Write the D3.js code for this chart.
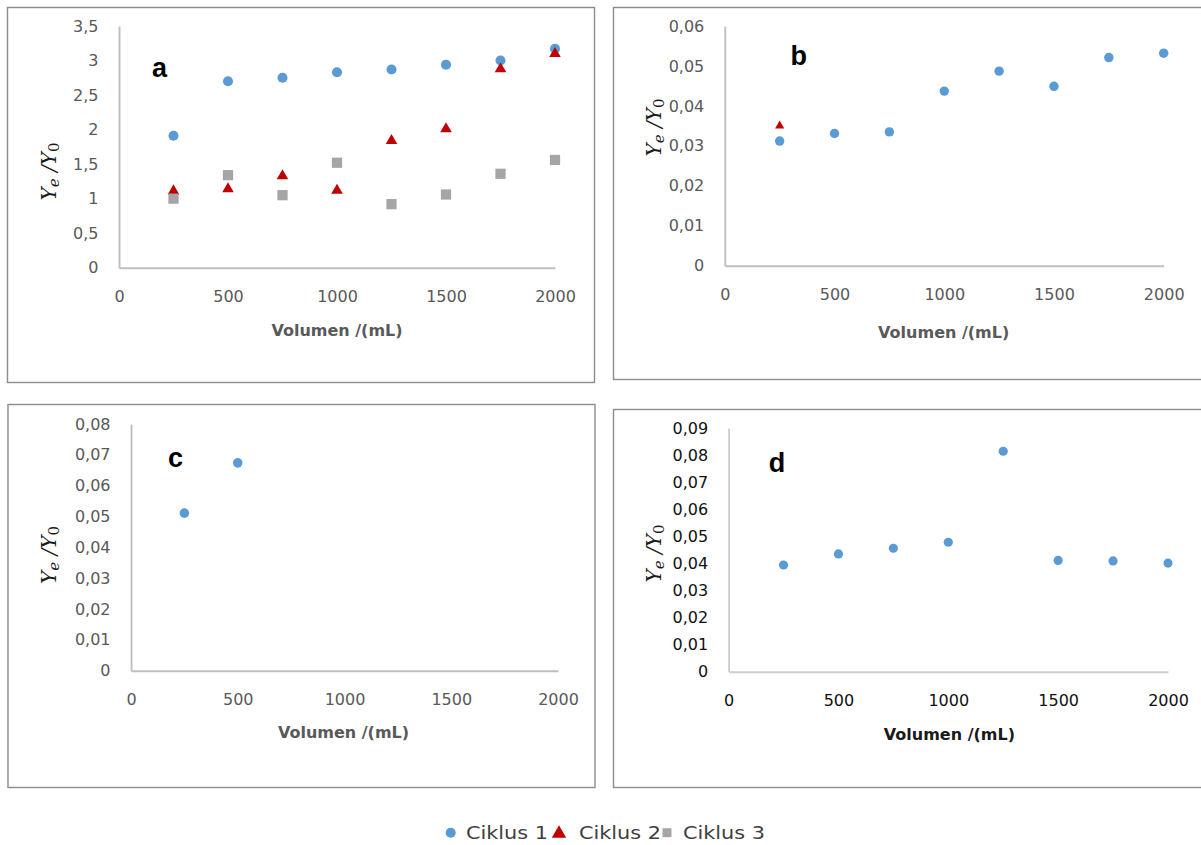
<!DOCTYPE html>
<html>
<head>
<meta charset="utf-8">
<script src="https://cdn.jsdelivr.net/npm/d3@7"></script>
<style>
  html, body { margin: 0; padding: 0; background: #fff; }
  svg { display: block; }
</style>
</head>
<body>
<svg id="chart" width="1201" height="845"></svg>
<script>
// ---- data ----
const volumes = [250, 500, 750, 1000, 1250, 1500, 1750, 2000];
const xTicks = [0, 500, 1000, 1500, 2000];
const seriesNames = ["Ciklus 1", "Ciklus 2", "Ciklus 3"];

// panel a
const aCiklus1 = [1.91, 2.70, 2.75, 2.83, 2.87, 2.94, 3.00, 3.17];
const aCiklus2 = [1.11, 1.14, 1.33, 1.12, 1.84, 2.01, 2.88, 3.10];
const aCiklus3 = [1.00, 1.34, 1.05, 1.52, 0.92, 1.06, 1.36, 1.56];
const aTicks = [0, 0.5, 1, 1.5, 2, 2.5, 3, 3.5];

// panel b
const bCiklus1 = [0.0312, 0.0331, 0.0335, 0.0437, 0.0487, 0.0449, 0.0521, 0.0532];
const bCiklus2Vol = [250];
const bCiklus2 = [0.0350];
const bTicks = [0, 0.01, 0.02, 0.03, 0.04, 0.05, 0.06];

// panel c
const cVolumes = [250, 500];
const cCiklus1 = [0.0511, 0.0674];
const cTicks = [0, 0.01, 0.02, 0.03, 0.04, 0.05, 0.06, 0.07, 0.08];

// panel d
const dCiklus1 = [0.0394, 0.0435, 0.0456, 0.0478, 0.0814, 0.0411, 0.0409, 0.0401];
const dTicks = [0, 0.01, 0.02, 0.03, 0.04, 0.05, 0.06, 0.07, 0.08, 0.09];

const colors = ["#5b9bd5", "#c00000", "#a5a5a5"];
const symbols = [d3.symbolCircle, d3.symbolTriangle, d3.symbolSquare];

const fmt = v => String(v).replace(".", ",");
const pairs = (xs, ys) => xs.map((x, i) => ({ x, y: ys[i] }));

// ---- panel layout ----
const panels = [
  {
    letter: "a", box: [7.5, 7.5, 594.5, 382.5],
    xr: [119, 555], yr: [267.7, 26], yMax: 3.5, ticks: aTicks,
    title: [337, 336], ylab: [48.5, 171.5], letterPos: [152, 77],
    text: "#595959", axis: "#bfbfbf",
    series: [
      { s: 0, pts: pairs(volumes, aCiklus1), size: 80 },
      { s: 1, pts: pairs(volumes, aCiklus2), size: 58 },
      { s: 2, pts: pairs(volumes, aCiklus3), size: 105 }
    ]
  },
  {
    letter: "b", box: [613.5, 7.5, 1215, 379.5],
    xr: [724.8, 1163.7], yr: [265.7, 26], yMax: 0.06, ticks: bTicks,
    title: [943.7, 338], ylab: [653.5, 127.5], letterPos: [790.6, 65],
    text: "#595959", axis: "#bfbfbf",
    series: [
      { s: 0, pts: pairs(volumes, bCiklus1), size: 70 },
      { s: 1, pts: pairs(bCiklus2Vol, bCiklus2), size: 36 }
    ]
  },
  {
    letter: "c", box: [8, 404.5, 595, 787.5],
    xr: [131, 558], yr: [670.7, 424], yMax: 0.08, ticks: cTicks,
    title: [343.5, 738], ylab: [48.5, 555], letterPos: [168, 466.7],
    text: "#595959", axis: "#bfbfbf",
    series: [
      { s: 0, pts: pairs(cVolumes, cCiklus1), size: 72 }
    ]
  },
  {
    letter: "d", box: [613.5, 409.5, 1215, 787.5],
    xr: [728.6, 1168], yr: [671.7, 428], yMax: 0.09, ticks: dTicks,
    title: [949.4, 740], ylab: [653.5, 553.5], letterPos: [768.8, 471.7],
    text: "#111111", axis: "#cfcfcf",
    series: [
      { s: 0, pts: pairs(volumes, dCiklus1), size: 66 }
    ]
  }
];

const svg = d3.select("#chart");
svg.append("rect").attr("width", 1201).attr("height", 845).attr("fill", "#fff");

panels.forEach(p => {
  const g = svg.append("g");
  const [bx0, by0, bx1, by1] = p.box;
  g.append("rect")
    .attr("x", bx0).attr("y", by0)
    .attr("width", bx1 - bx0).attr("height", by1 - by0)
    .attr("fill", "none").attr("stroke", "#8c8c8c").attr("stroke-width", 1.4);

  const x = d3.scaleLinear().domain([0, 2000]).range(p.xr);
  const y = d3.scaleLinear().domain([0, p.yMax]).range(p.yr);

  // y axis
  const gy = g.append("g")
    .attr("transform", `translate(${p.xr[0]},0)`)
    .call(d3.axisLeft(y).tickValues(p.ticks).tickFormat(fmt).tickSize(0).tickPadding(20.5));
  // x axis
  const gx = g.append("g")
    .attr("transform", `translate(0,${p.yr[0]})`)
    .call(d3.axisBottom(x).tickValues(xTicks).tickFormat(d3.format("d")).tickSize(0).tickPadding(23));

  [gx, gy].forEach(ax => {
    ax.attr("font-family", "DejaVu Sans, sans-serif").attr("font-size", 16);
    ax.select(".domain").attr("stroke", p.axis).attr("stroke-width", 1.9);
    ax.selectAll("text").attr("fill", p.text);
  });

  // axis title
  g.append("text")
    .attr("x", p.title[0]).attr("y", p.title[1])
    .attr("text-anchor", "middle")
    .attr("font-family", "DejaVu Sans, sans-serif")
    .attr("font-weight", "bold").attr("font-size", 16)
    .attr("fill", p.text === "#111111" ? "#1a1a1a" : "#595959")
    .text("Volumen /(mL)");

  // y label: Y_e / Y_0
  const yl = g.append("text")
    .attr("transform", `translate(${p.ylab[0]},${p.ylab[1]}) rotate(-90)`)
    .attr("text-anchor", "middle")
    .attr("dominant-baseline", "central")
    .attr("font-family", "DejaVu Serif, serif")
    .attr("font-style", "italic")
    .attr("font-size", 20)
    .attr("fill", "#1a1a1a");
  yl.append("tspan").text("Y");
  yl.append("tspan").attr("font-size", 15).attr("dy", 5).text("e");
  yl.append("tspan").attr("dy", -5).text(" /Y");
  yl.append("tspan").attr("font-size", 15).attr("font-style", "normal").attr("dy", 5).text("0");

  // panel letter
  g.append("text")
    .attr("x", p.letterPos[0]).attr("y", p.letterPos[1])
    .attr("font-family", "Liberation Sans, Arial, sans-serif")
    .attr("font-weight", "bold").attr("font-size", 27)
    .attr("fill", "#000")
    .text(p.letter);

  // markers
  p.series.forEach(ser => {
    g.append("g").selectAll("path")
      .data(ser.pts)
      .join("path")
      .attr("transform", d => `translate(${x(d.x)},${y(d.y)})`)
      .attr("d", d3.symbol().type(symbols[ser.s]).size(ser.size))
      .attr("fill", colors[ser.s]);
  });
});

// ---- legend ----
const legendX = [450.7, 559, 667];
const legendTextX = [466, 579, 683];
const legend = svg.append("g");
seriesNames.forEach((name, i) => {
  legend.append("path")
    .attr("transform", `translate(${legendX[i]},${i === 1 ? 833.5 : 832.7})`)
    .attr("d", d3.symbol().type(symbols[i]).size(i === 1 ? 90 : 80))
    .attr("fill", colors[i]);
  legend.append("text")
    .attr("x", legendTextX[i]).attr("y", 838.5)
    .attr("font-family", "DejaVu Sans, sans-serif")
    .attr("font-size", 18)
    .attr("textLength", 82).attr("lengthAdjust", "spacingAndGlyphs")
    .attr("fill", "#404040")
    .text(name);
});
</script>
</body>
</html>
